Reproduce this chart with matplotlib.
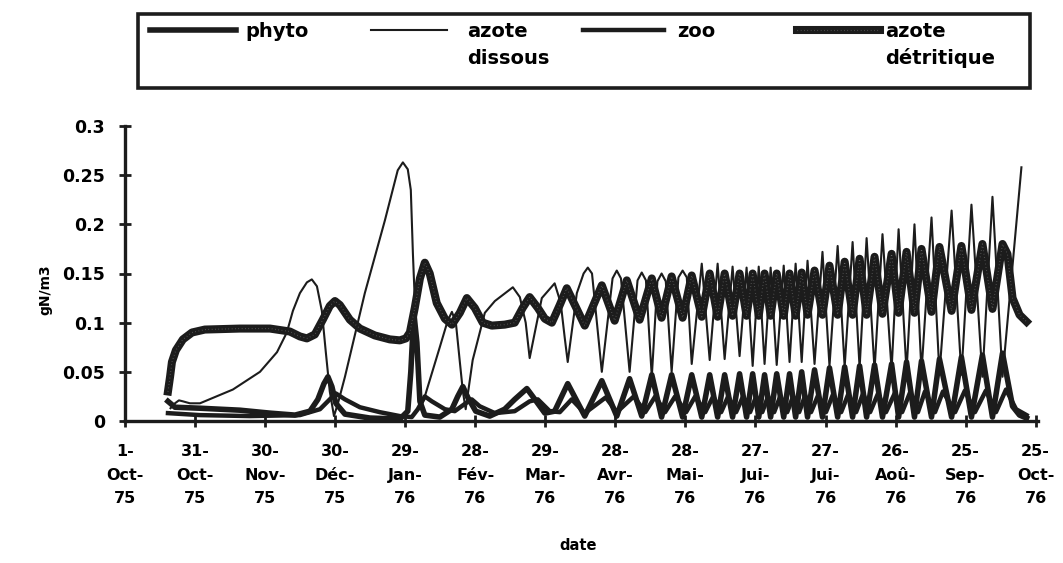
import matplotlib.pyplot as plt
from matplotlib.lines import Line2D
from matplotlib.patches import Rectangle

W, H = 1063, 563

# days counted from 1-Oct-75
tick_days = [0, 30, 60, 90, 120, 150, 180, 210, 240, 270, 300, 330, 360, 390]
tick_labels = ["1-\nOct-\n75", "31-\nOct-\n75", "30-\nNov-\n75", "30-\nDéc-\n75",
               "29-\nJan-\n76", "28-\nFév-\n76", "29-\nMar-\n76", "28-\nAvr-\n76",
               "28-\nMai-\n76", "27-\nJui-\n76", "27-\nJui-\n76", "26-\nAoû-\n76",
               "25-\nSep-\n76", "25-\nOct-\n76"]
y_ticks = [0, 0.05, 0.1, 0.15, 0.2, 0.25, 0.3]
y_labels = ["0", "0.05", "0.1", "0.15", "0.2", "0.25", "0.3"]

dissous_days = [19.5, 21.4, 23.1, 24.8, 27.8, 32.1, 46.2, 57.8, 65.1, 69.3, 71.9, 74.9,
                77.9, 80.0, 82.2, 84.3, 86.0, 87.7, 89.5, 91.2, 94.2, 102.7, 111.3,
                116.8, 119.0, 121.1, 122.4, 123.3, 125.0, 126.3, 128.4, 134.8, 138.2,
                140.0, 141.7, 143.4, 144.7, 145.9, 148.9, 154.1, 158.4, 166.1, 169.1,
                171.6, 173.3, 175.5, 178.5, 184.0, 186.6, 188.3, 189.6,
                193.5, 196.4, 198.2, 200.0, 204.2, 208.8, 210.6, 212.4, 216.1,
                219.5, 221.3, 223.1, 225.6, 228.0, 229.8, 231.6, 234.1, 237.0, 238.8,
                240.6, 242.7, 247.0, 250.4, 253.8, 256.8, 260.2, 263.2, 266.2, 268.8,
                271.4, 273.9, 276.5, 279.1, 282.1, 284.6, 287.2, 289.8, 292.3, 295.3,
                298.7, 301.7, 305.2, 308.2, 311.6, 314.6, 317.6, 321.0, 324.4, 328.3,
                331.3, 334.7, 338.1, 341.1, 345.4, 348.8, 354.0, 358.2, 362.5, 367.2,
                371.5, 375.8, 383.9]
dissous_vals = [0.013, 0.018, 0.021, 0.02, 0.018, 0.018, 0.032, 0.05, 0.07, 0.09, 0.112, 0.13,
                0.141, 0.144, 0.137, 0.112, 0.07, 0.03, 0.005, 0.018, 0.045, 0.13, 0.204,
                0.255, 0.263, 0.256, 0.235, 0.17, 0.07, 0.012, 0.025, 0.075, 0.102,
                0.111, 0.1, 0.06, 0.03, 0.012, 0.062, 0.11, 0.122, 0.136, 0.126,
                0.1, 0.064, 0.09, 0.125, 0.14, 0.12, 0.085, 0.06,
                0.13, 0.15, 0.156, 0.15, 0.05, 0.145, 0.153, 0.145, 0.05,
                0.143, 0.151, 0.143, 0.045, 0.142, 0.15, 0.142, 0.05, 0.146, 0.153,
                0.146, 0.058, 0.16, 0.062, 0.16, 0.063, 0.157, 0.066, 0.156, 0.056,
                0.157, 0.058, 0.156, 0.057, 0.158, 0.06, 0.16, 0.06, 0.163, 0.058,
                0.172, 0.056, 0.178, 0.055, 0.182, 0.054, 0.186, 0.052, 0.19, 0.052,
                0.195, 0.05, 0.2, 0.05, 0.207, 0.048, 0.214, 0.047, 0.22, 0.045,
                0.228, 0.045, 0.258]

detritique_days = [18.4, 19.3, 20.1, 21.8, 24.8, 28.7, 34.2, 49.2, 62.1, 70.6, 74.9, 77.9,
                   81.3, 84.7, 87.7, 89.9, 92.0, 96.3, 100.6, 107.0, 113.4, 117.7, 120.3,
                   122.0, 124.1, 126.3, 128.4, 130.5, 133.5, 137.0, 140.0, 143.4, 146.4,
                   149.8, 153.2, 157.1, 162.6, 166.9, 170.3, 173.3, 176.8, 179.8, 182.8,
                   186.2, 189.2, 196.9, 204.2, 209.7, 214.9, 220.4, 225.6, 229.8, 234.1,
                   238.8, 242.7, 247.0, 250.4, 253.8, 256.8, 260.2, 263.2, 266.2, 268.8,
                   271.4, 273.9, 276.5, 279.1, 282.1, 284.6, 287.2, 289.8, 292.3, 295.3,
                   298.7, 301.7, 305.2, 308.2, 311.6, 314.6, 317.6, 321.0, 324.4, 328.3,
                   331.3, 334.7, 338.1, 341.1, 345.4, 348.8, 354.0, 358.2, 362.5, 367.2,
                   371.5, 375.8, 377.9, 380.1, 383.1, 386.1]
detritique_vals = [0.03, 0.045, 0.06, 0.072, 0.083, 0.09, 0.093, 0.094, 0.094, 0.091, 0.086, 0.084,
                   0.088, 0.103, 0.117, 0.122, 0.118, 0.103, 0.094, 0.087, 0.083, 0.082, 0.084,
                   0.09, 0.115, 0.145, 0.161, 0.15, 0.12, 0.104, 0.098, 0.11, 0.125,
                   0.115, 0.1, 0.097, 0.098, 0.1, 0.115, 0.126, 0.115, 0.104, 0.1,
                   0.118, 0.135, 0.097, 0.138, 0.102, 0.143, 0.103, 0.145, 0.105, 0.147,
                   0.105, 0.148, 0.106, 0.15, 0.106, 0.15, 0.107, 0.15, 0.107, 0.15,
                   0.107, 0.15, 0.107, 0.15, 0.107, 0.15, 0.107, 0.151, 0.108, 0.153,
                   0.108, 0.158, 0.108, 0.162, 0.108, 0.165, 0.108, 0.167, 0.109, 0.17,
                   0.11, 0.172, 0.11, 0.175, 0.111, 0.177, 0.112, 0.178, 0.113, 0.18,
                   0.114, 0.18, 0.17, 0.125, 0.108, 0.101]

phyto_days = [18.4, 21.4, 32.1, 49.2, 62.1, 72.8, 79.2, 82.6, 85.2, 86.9, 88.6, 90.3,
              94.2, 104.9, 117.7, 121.1, 122.4, 123.7, 125.0, 126.3, 128.4, 134.8, 140.0,
              142.5, 144.7, 146.8, 150.2, 156.2, 162.6, 166.9, 172.1, 174.6, 179.8, 184.0,
              189.6, 196.9, 204.2, 210.6, 216.1, 221.3, 225.6, 229.8, 234.1, 238.8,
              242.7, 247.0, 250.4, 253.8, 256.8, 260.2, 263.2, 266.2, 268.8, 271.4,
              273.9, 276.5, 279.1, 282.1, 284.6, 287.2, 289.8, 292.3, 295.3, 298.7,
              301.7, 305.2, 308.2, 311.6, 314.6, 317.6, 321.0, 324.4, 328.3, 331.3,
              334.7, 338.1, 341.1, 345.4, 348.8, 354.0, 358.2, 362.5, 367.2, 371.5,
              375.8, 380.1, 383.1, 386.1]
phyto_vals = [0.02, 0.014, 0.013, 0.011, 0.008, 0.006, 0.01, 0.022, 0.038, 0.045, 0.035, 0.018,
              0.007, 0.003, 0.002, 0.01, 0.05, 0.11, 0.08, 0.02, 0.006, 0.004, 0.012,
              0.025, 0.035, 0.024, 0.01, 0.005, 0.012, 0.022, 0.033, 0.025, 0.008, 0.01,
              0.038, 0.005, 0.041, 0.005, 0.043, 0.005, 0.047, 0.004, 0.047, 0.004,
              0.047, 0.004, 0.047, 0.004, 0.047, 0.004, 0.048, 0.004, 0.048, 0.004,
              0.047, 0.004, 0.048, 0.004, 0.048, 0.004, 0.05, 0.004, 0.052, 0.004,
              0.054, 0.004, 0.055, 0.004, 0.056, 0.004, 0.057, 0.004, 0.058, 0.004,
              0.06, 0.004, 0.061, 0.004, 0.063, 0.004, 0.065, 0.004, 0.067, 0.004,
              0.069, 0.015, 0.006, 0.003]

zoo_days = [18.4, 32.1, 53.5, 74.9, 83.5, 87.7, 90.3, 94.2, 100.6, 109.1, 117.7, 122.8,
            125.4, 128.4, 131.4, 137.0, 141.2, 145.9, 148.5, 151.9, 158.4, 166.9, 173.3,
            176.8, 181.9, 186.2, 191.3, 196.9, 205.9, 210.6, 217.9, 222.8, 227.1, 231.3,
            235.6, 240.3, 244.2, 248.5, 251.9, 255.3, 258.3, 261.7, 264.7, 267.7, 270.3,
            272.9, 275.4, 278.0, 280.6, 283.6, 286.1, 288.7, 291.3, 293.8, 296.8, 300.2,
            303.2, 306.7, 309.7, 313.1, 316.1, 319.1, 322.5, 325.9, 329.8, 332.8, 336.2,
            339.6, 342.6, 346.9, 350.3, 355.5, 359.7, 364.0, 368.7, 373.0, 377.3, 381.6,
            386.1]
zoo_vals = [0.008, 0.006, 0.005, 0.006, 0.012, 0.022, 0.028, 0.022, 0.014, 0.009, 0.005, 0.004,
            0.012, 0.025, 0.02, 0.012, 0.01, 0.018, 0.022, 0.015, 0.008, 0.01, 0.02,
            0.022, 0.01, 0.009, 0.022, 0.008, 0.024, 0.009, 0.025, 0.009, 0.025, 0.009,
            0.025, 0.009, 0.025, 0.009, 0.025, 0.009, 0.025, 0.009, 0.025, 0.009, 0.025,
            0.009, 0.025, 0.009, 0.025, 0.009, 0.025, 0.009, 0.026, 0.009, 0.026, 0.009,
            0.027, 0.009, 0.027, 0.009, 0.028, 0.009, 0.028, 0.009, 0.029, 0.009, 0.029,
            0.009, 0.03, 0.009, 0.03, 0.009, 0.031, 0.009, 0.031, 0.009, 0.032, 0.012,
            0.006]

INK = "#1c1c1c"
HATCH = "#6e6e6e"


def fx(px):
    return px / W


def fy(py):
    return 1 - py / H


def main():
    plt.rcParams['font.family'] = ["DejaVu Sans"]
    plt.rcParams['font.weight'] = 'bold'
    fig = plt.figure(figsize=(W / 100, H / 100), dpi=100)
    ax = fig.add_axes([fx(125), fy(421), fx(1038) - fx(125), fy(126) - fy(421)])

    ax.plot(dissous_days, dissous_vals, color=INK, lw=1.5, zorder=2)
    ax.plot(zoo_days, zoo_vals, color=INK, lw=3.2, zorder=3)
    ax.plot(phyto_days, phyto_vals, color=INK, lw=4.0, zorder=4)
    ax.plot(detritique_days, detritique_vals, color=INK, lw=5.8, zorder=5)
    ax.plot(detritique_days, detritique_vals, color=HATCH, lw=0.8,
            dashes=(0.5, 2.5), zorder=6)

    ax.set_xlim(0, 391)
    ax.set_ylim(0, 0.3)
    ax.set_xticks(tick_days)
    ax.set_xticklabels(tick_labels, fontsize=11.5, linespacing=1.72)
    ax.set_yticks(y_ticks)
    ax.set_yticklabels(y_labels, fontsize=12.5)
    for s in ['top', 'right']:
        ax.spines[s].set_visible(False)
    for s in ['left', 'bottom']:
        ax.spines[s].set_linewidth(2.4)
        ax.spines[s].set_color(INK)
    ax.tick_params(axis='both', direction='inout', length=9, width=2, color=INK)
    ax.tick_params(axis='y', pad=10)
    ax.tick_params(axis='x', pad=12)

    fig.text(fx(45), fy(290), "gN/m3", rotation=90, ha='center', va='center',
             fontsize=10)
    fig.text(fx(578), fy(546), "date", ha='center', va='center', fontsize=10.5)

    # legend box drawn by hand so the handles sit on the first text line
    fig.add_artist(Rectangle((fx(138), fy(88)), fx(1030) - fx(138), fy(14) - fy(88),
                             transform=fig.transFigure, fill=False, lw=2.6,
                             edgecolor=INK))
    entries = [(150, 236, 245, ["phyto"], 4.0),
               (371, 447, 467, ["azote", "dissous"], 1.5),
               (583, 664, 677, ["zoo"], 3.2),
               (797, 880, 885, ["azote", "détritique"], 5.8)]
    for a, b, t, lines, lw in entries:
        fig.add_artist(Line2D([fx(a), fx(b)], [fy(30), fy(30)],
                              transform=fig.transFigure, color=INK, lw=lw))
        for i, line in enumerate(lines):
            fig.text(fx(t), fy(37 + 27 * i), line, ha='left', va='baseline',
                     fontsize=14)
    fig.add_artist(Line2D([fx(797), fx(880)], [fy(30), fy(30)],
                          transform=fig.transFigure, color=HATCH, lw=0.8,
                          dashes=(0.5, 2.5)))

    fig.savefig("out.png", dpi=100)


if __name__ == "__main__":
    main()
